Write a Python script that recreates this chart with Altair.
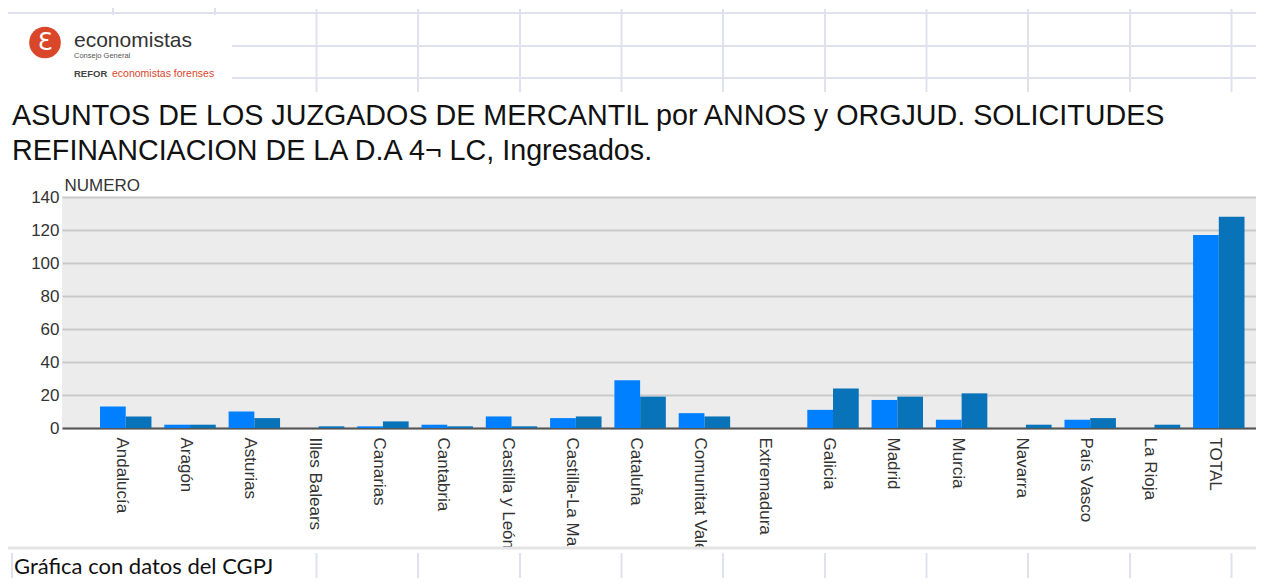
import altair as alt
import pandas as pd

# ---- data ----
regiones = ["Andalucía", "Aragón", "Asturias", "Illes Balears", "Canarias", "Cantabria",
            "Castilla y León", "Castilla-La Mancha", "Cataluña", "Comunitat Valenciana",
            "Extremadura", "Galicia", "Madrid", "Murcia", "Navarra", "País Vasco",
            "La Rioja", "TOTAL"]
series = ["Año 1", "Año 2"]
valores_1 = [13, 2, 10, 0, 1, 2, 7, 6, 29, 9, 0, 11, 17, 5, 0, 5, 0, 117]
valores_2 = [7, 2, 6, 1, 4, 1, 1, 7, 19, 7, 0, 24, 19, 21, 2, 6, 2, 128]
y_ticks = [0, 20, 40, 60, 80, 100, 120, 140]

titulo_1 = "ASUNTOS DE LOS JUZGADOS DE MERCANTIL por ANNOS y ORGJUD. SOLICITUDES"
titulo_2 = "REFINANCIACION DE LA D.A 4¬ LC, Ingresados."
eje_y = "NUMERO"
pie = "Gráfica con datos del CGPJ"
logo_1 = "economistas"
logo_2 = "Consejo General"
logo_3 = "REFOR"
logo_4 = "economistas forenses"

rows = []
for r, a, b in zip(regiones, valores_1, valores_2):
    rows.append({"region": r, "serie": series[0], "valor": a})
    rows.append({"region": r, "serie": series[1], "valor": b})
df = pd.DataFrame(rows)
one = pd.DataFrame({"k": [0]})

FONT = "Liberation Sans"
GRIDC = "#dfe2ee"
W = 1194

bars = alt.Chart(df).mark_bar().encode(
    x=alt.X("region:N", sort=regiones,
            scale=alt.Scale(paddingInner=0.2, paddingOuter=0.385, align=0.768),
            axis=alt.Axis(title=None, labelAngle=90, labelFontSize=17, labelFont=FONT,
                          labelColor="#333333", ticks=False, domain=True,
                          domainColor="#555555", domainWidth=2, labelPadding=9,
                          labelOffset=-4, labelOverlap=False, labelLimit=400, grid=False)),
    xOffset=alt.XOffset("serie:N", sort=series,
                        scale=alt.Scale(paddingInner=0, paddingOuter=0)),
    y=alt.Y("valor:Q", scale=alt.Scale(domain=[0, 140], nice=False),
            axis=alt.Axis(values=y_ticks, title=eje_y, titleAngle=0, titleX=2, titleY=-7,
                          titleAlign="left", titleBaseline="alphabetic", titleFontSize=17,
                          titleFontWeight="normal", titleColor="#333333", titleFont=FONT,
                          labelFontSize=17, labelFont=FONT, labelColor="#333333",
                          labelPadding=3, ticks=False, domain=False, grid=True,
                          gridColor="#c9c9c9", gridWidth=2)),
    color=alt.Color("serie:N", sort=series,
                    scale=alt.Scale(domain=series, range=["#0080ff", "#0873b9"]),
                    legend=None),
)

layers = [bars]

# bottom white band (spreadsheet row) covering overflowing labels
layers.append(alt.Chart(one).mark_rect(color="white").encode(
    x=alt.value(-62), x2=alt.value(W), y=alt.value(351), y2=alt.value(400)))
layers.append(alt.Chart(one).mark_rule(color="#e4e4e4", strokeWidth=3).encode(
    x=alt.value(-62), x2=alt.value(W), y=alt.value(351)))

# spreadsheet grid lines, top
for yy, x0 in [(-184, -54), (-151, 170), (-119, 170)]:
    layers.append(alt.Chart(one).mark_rule(color=GRIDC, strokeWidth=2).encode(
        x=alt.value(x0), x2=alt.value(W), y=alt.value(yy)))
for xx in [51, 153]:
    layers.append(alt.Chart(one).mark_rule(color=GRIDC, strokeWidth=2).encode(
        x=alt.value(xx), y=alt.value(-189), y2=alt.value(-182)))
cols = [254.5, 356, 458, 559.5, 661, 763, 864.5, 966, 1068, 1169.5]
for xx in cols:
    layers.append(alt.Chart(one).mark_rule(color=GRIDC, strokeWidth=2).encode(
        x=alt.value(xx), y=alt.value(-188), y2=alt.value(-105)))
# spreadsheet grid lines, bottom
for xx in [-50] + cols:
    layers.append(alt.Chart(one).mark_rule(color=GRIDC, strokeWidth=2).encode(
        x=alt.value(xx), y=alt.value(356), y2=alt.value(400)))

# logo
layers.append(alt.Chart(one).mark_circle(color="#d9462a", opacity=1, size=1000).encode(
    x=alt.value(-17), y=alt.value(-154.5)))
layers.append(alt.Chart(one).mark_text(font="DejaVu Sans", fontSize=24, color="white",
                                       align="center", baseline="middle").encode(
    x=alt.value(-17), y=alt.value(-154), text=alt.value("Ɛ")))
layers.append(alt.Chart(one).mark_text(font=FONT, fontSize=21, color="#333333",
                                       align="left", baseline="alphabetic").encode(
    x=alt.value(12), y=alt.value(-150), text=alt.value(logo_1)))
layers.append(alt.Chart(one).mark_text(font=FONT, fontSize=7.5, color="#555555",
                                       align="left", baseline="alphabetic").encode(
    x=alt.value(12), y=alt.value(-139.5), text=alt.value(logo_2)))
layers.append(alt.Chart(one).mark_text(font=FONT, fontSize=9.5, fontWeight="bold",
                                       color="#444444", align="left",
                                       baseline="alphabetic").encode(
    x=alt.value(12), y=alt.value(-120.5), text=alt.value(logo_3)))
layers.append(alt.Chart(one).mark_text(font=FONT, fontSize=10.5, color="#d9462a",
                                       align="left", baseline="alphabetic").encode(
    x=alt.value(50), y=alt.value(-120.5), text=alt.value(logo_4)))

# title
for txt, yy in [(titulo_1, -72), (titulo_2, -37.5)]:
    layers.append(alt.Chart(one).mark_text(font=FONT, fontSize=28.7, color="#111111",
                                           align="left", baseline="alphabetic").encode(
        x=alt.value(-50), y=alt.value(yy), text=alt.value(txt)))

# footer
layers.append(alt.Chart(one).mark_text(font="Lato", fontSize=22, color="#111111",
                                       align="left", baseline="alphabetic").encode(
    x=alt.value(-48), y=alt.value(377), text=alt.value(pie)))

chart = alt.layer(*layers).properties(
    width=W, height=231,
    autosize=alt.AutoSizeParams(type="none"),
    padding={"left": 54, "top": 189, "right": 0, "bottom": 150},
    background="white",
).configure_view(fill="#ececec", strokeWidth=0)

chart.save("out.html", embed_options={"renderer": "svg", "actions": False})
